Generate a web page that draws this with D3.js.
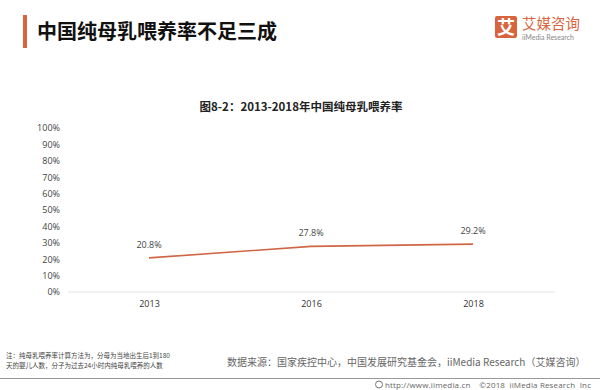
<!DOCTYPE html>
<html>
<head>
<meta charset="utf-8">
<script src="https://cdn.jsdelivr.net/npm/d3@7"></script>
<style>
  html, body { margin: 0; padding: 0; background: #fff; }
  svg { display: block; font-family: "Noto Sans CJK SC", "Noto Sans", sans-serif; }
</style>
</head>
<body>
<div id="chart"></div>
<script>
// chart data
const years = ['2013', '2016', '2018'];
const rates = [20.8, 27.8, 29.2];
const yTicks = [0, 10, 20, 30, 40, 50, 60, 70, 80, 90, 100];

const W = 600, H = 390;
const accent = '#d8643e';

const svg = d3.select('#chart').append('svg')
  .attr('width', W)
  .attr('height', H);

svg.append('rect').attr('width', W).attr('height', H).attr('fill', '#fff');

// header
svg.append('rect')
  .attr('x', 23).attr('y', 15).attr('width', 4).attr('height', 33)
  .attr('fill', accent);

svg.append('text')
  .attr('x', 37).attr('y', 39)
  .attr('font-size', 20).attr('font-weight', 'bold').attr('fill', '#111')
  .text('中国纯母乳喂养率不足三成');

// logo
const logo = svg.append('g');
logo.append('rect')
  .attr('x', 495).attr('y', 16).attr('width', 22).attr('height', 22).attr('rx', 2)
  .attr('fill', accent);
logo.append('text')
  .attr('x', 506).attr('y', 34).attr('text-anchor', 'middle')
  .attr('font-size', 18).attr('font-weight', 'bold').attr('fill', '#fff')
  .text('艾');
logo.append('text')
  .attr('x', 522).attr('y', 29)
  .attr('font-size', 14.5).attr('fill', accent)
  .text('艾媒咨询');
logo.append('text')
  .attr('x', 522).attr('y', 40)
  .attr('font-size', 7).attr('fill', '#888').attr('font-family', 'Lato, sans-serif')
  .text('iiMedia Research');

// chart title
svg.append('text')
  .attr('x', 301).attr('y', 111).attr('text-anchor', 'middle')
  .attr('font-size', 11.5).attr('font-weight', 'bold').attr('fill', '#222')
  .text('图8-2：2013-2018年中国纯母乳喂养率');

// scales
const x = d3.scalePoint().domain(years).range([149, 473]);
const y = d3.scaleLinear().domain([0, 100]).range([292, 128]);

// y axis labels (no line)
const yAxis = svg.append('g')
  .attr('transform', 'translate(60,0)')
  .call(d3.axisLeft(y).tickValues(yTicks).tickFormat(d => d + '%').tickSize(0).tickPadding(0));
yAxis.select('.domain').remove();
yAxis.selectAll('text')
  .attr('font-size', 9).attr('fill', '#444')
  .attr('font-family', '"Open Sans", sans-serif');

// x axis baseline
svg.append('line')
  .attr('x1', 68).attr('x2', 555)
  .attr('y1', y(0)).attr('y2', y(0))
  .attr('stroke', '#e3e3e3').attr('stroke-width', 1);

const xAxis = svg.append('g')
  .attr('transform', `translate(0,${y(0)})`)
  .call(d3.axisBottom(x).tickSize(0).tickPadding(9));
xAxis.select('.domain').remove();
xAxis.selectAll('text')
  .attr('font-size', 9).attr('fill', '#333')
  .attr('font-family', '"Open Sans", sans-serif');

// line
const pts = years.map((yr, i) => ({ year: yr, value: rates[i] }));
svg.append('path')
  .datum(pts)
  .attr('d', d3.line().x(d => x(d.year)).y(d => y(d.value)))
  .attr('fill', 'none')
  .attr('stroke', '#cf6646')
  .attr('stroke-width', 1.6);

svg.selectAll('.val')
  .data(pts)
  .enter().append('text')
  .attr('class', 'val')
  .attr('x', d => x(d.year))
  .attr('y', d => y(d.value) - 10)
  .attr('text-anchor', 'middle')
  .attr('font-size', 9).attr('fill', '#444')
  .attr('font-family', '"Open Sans", sans-serif')
  .text(d => d.value.toFixed(1) + '%');

// note
const note = svg.append('g').attr('font-size', 6.5).attr('fill', '#444');
note.append('text').attr('x', 6).attr('y', 358)
  .text('注：纯母乳喂养率计算方法为，分母为当地出生后1到180');
note.append('text').attr('x', 6).attr('y', 368)
  .text('天的婴儿人数，分子为过去24小时内纯母乳喂养的人数');

// source
svg.append('text')
  .attr('x', 227).attr('y', 366)
  .attr('font-size', 10).attr('fill', '#666')
  .text('数据来源：国家疾控中心，中国发展研究基金会，iiMedia Research（艾媒咨询）');

// footer
svg.append('line')
  .attr('x1', 0).attr('x2', W).attr('y1', 378.5).attr('y2', 378.5)
  .attr('stroke', '#999').attr('stroke-width', 1);

svg.append('circle')
  .attr('cx', 379).attr('cy', 384.5).attr('r', 3.5)
  .attr('fill', 'none').attr('stroke', '#777').attr('stroke-width', 1);
svg.append('text')
  .attr('x', 385).attr('y', 388)
  .attr('font-size', 8).attr('fill', '#666').attr('letter-spacing', 0.15)
  .attr('font-family', '"Open Sans", sans-serif')
  .attr('xml:space', 'preserve')
  .text('http://www.iimedia.cn    ©2018  iiMedia Research  Inc');
</script>
</body>
</html>
